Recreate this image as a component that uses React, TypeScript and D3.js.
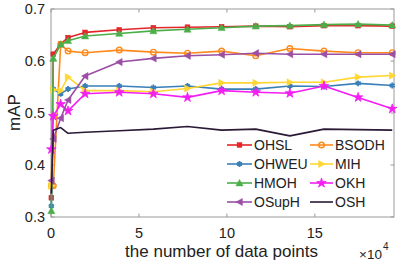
import React from "react";
import * as d3 from "d3";

const xs = [0.02, 0.13, 0.55, 0.97, 1.94, 3.88, 5.82, 7.76, 9.7, 11.64, 13.58, 15.52, 17.46, 19.4];
const OHSL = [0.337, 0.613, 0.633, 0.645, 0.655, 0.66, 0.664, 0.665, 0.666, 0.667, 0.666, 0.668, 0.668, 0.667];
const BSODH = [0.36, 0.36, 0.632, 0.619, 0.616, 0.621, 0.617, 0.615, 0.619, 0.61, 0.624, 0.619, 0.616, 0.616];
const OHWEU = [0.321, 0.546, 0.537, 0.546, 0.552, 0.552, 0.549, 0.552, 0.546, 0.546, 0.552, 0.551, 0.557, 0.553];
const MIH = [0.36, 0.545, 0.543, 0.569, 0.543, 0.543, 0.541, 0.547, 0.558, 0.558, 0.559, 0.559, 0.569, 0.572];
const HMOH = [0.312, 0.605, 0.632, 0.639, 0.648, 0.653, 0.658, 0.661, 0.664, 0.667, 0.668, 0.67, 0.671, 0.669];
const OKH = [0.43, 0.494, 0.517, 0.504, 0.537, 0.54, 0.537, 0.53, 0.543, 0.54, 0.538, 0.552, 0.53, 0.508];
const OSupH = [0.37, 0.45, 0.49, 0.525, 0.571, 0.598, 0.605, 0.61, 0.612, 0.615, 0.613, 0.613, 0.613, 0.613];
const OSH = [0.345, 0.467, 0.472, 0.461, 0.463, 0.466, 0.469, 0.474, 0.467, 0.469, 0.456, 0.469, 0.468, 0.467];

const seriesNames = ["OHSL", "BSODH", "OHWEU", "MIH", "HMOH", "OKH", "OSupH", "OSH"];
const seriesValues = [OHSL, BSODH, OHWEU, MIH, HMOH, OKH, OSupH, OSH];
const colors = ["#e3262a", "#ff8a1c", "#3a7fb8", "#ffd633", "#4cae4a", "#f21ef2", "#9a4fa4", "#2a1a36"];
const markers = ["square", "circle", "star6", "right", "up", "star5", "left", "none"];

const xTicks = [0, 5, 10, 15];
const yTicks = [0.3, 0.4, 0.5, 0.6, 0.7];

const FONT = "'Liberation Sans', Arial, sans-serif";

function Marker({ type, x, y, color }: { type: string; x: number; y: number; color: string }) {
  if (type === "none") return null;
  if (type === "square") {
    return <rect x={x - 2.4} y={y - 2.4} width={4.8} height={4.8} fill={color} stroke={color} strokeWidth={0.5} />;
  }
  if (type === "circle") {
    return <circle cx={x} cy={y} r={2.8} fill="none" stroke={color} strokeWidth={1.4} />;
  }
  if (type === "star6") {
    const p = d3.symbol().type(d3.symbolAsterisk).size(24)();
    return <path d={p || ""} transform={`translate(${x},${y})`} fill={color} stroke={color} strokeWidth={1.8} />;
  }
  if (type === "star5") {
    const p = d3.symbol().type(d3.symbolStar).size(28)();
    return <path d={p || ""} transform={`translate(${x},${y})`} fill={color} stroke={color} strokeWidth={0.8} />;
  }
  const s = 3.6;
  let pts = "";
  if (type === "up") pts = `${x},${y - s} ${x - s},${y + s * 0.8} ${x + s},${y + s * 0.8}`;
  if (type === "right") pts = `${x + s},${y} ${x - s * 0.8},${y - s} ${x - s * 0.8},${y + s}`;
  if (type === "left") pts = `${x - s},${y} ${x + s * 0.8},${y - s} ${x + s * 0.8},${y + s}`;
  return <polygon points={pts} fill={color} stroke={color} strokeWidth={0.5} />;
}

export default function App() {
  const W = 399, H = 266;
  const left = 51, right = 394, top = 9, bottom = 217;
  const x = d3.scaleLinear().domain([0, 19.5]).range([left, right]);
  const y = d3.scaleLinear().domain([0.3, 0.7]).range([bottom, top]);
  const line = d3.line<number>().x((_, i) => x(xs[i])).y((d) => y(d));
  const axisColor = "#9a9a9a";
  const tl = 3.5;

  const legendCols = [227, 310];
  const legendLens = [25, 23];
  const legendRows = [145, 164, 183, 202];

  return (
    <svg width={W} height={H} style={{ position: "absolute", left: 0, top: 0, background: "#fff" }}>
      <rect x={0} y={0} width={W} height={H} fill="#fff" />
      <rect x={left} y={top} width={right - left} height={bottom - top} fill="none" stroke={axisColor} strokeWidth={1} />
      {xTicks.map((t) => (
        <g key={"xt" + t}>
          <line x1={x(t)} x2={x(t)} y1={bottom} y2={bottom - tl} stroke={axisColor} />
          <line x1={x(t)} x2={x(t)} y1={top} y2={top + tl} stroke={axisColor} />
          <text x={x(t)} y={bottom + 21} fontSize={14.5} fontFamily={FONT} fill="#222" textAnchor="middle">{t}</text>
        </g>
      ))}
      {yTicks.map((t) => (
        <g key={"yt" + t}>
          <line x1={left} x2={left + tl} y1={y(t)} y2={y(t)} stroke={axisColor} />
          <line x1={right} x2={right - tl} y1={y(t)} y2={y(t)} stroke={axisColor} />
          <text x={left - 6} y={y(t) + 5.2} fontSize={14.5} fontFamily={FONT} fill="#222" textAnchor="end">{t.toFixed(1)}</text>
        </g>
      ))}
      <text transform={`translate(20,112.5) rotate(-90)`} fontSize={17} fontFamily={FONT} fill="#222" textAnchor="middle">mAP</text>
      <text x={221.5} y={257} fontSize={17} fontFamily={FONT} fill="#222" textAnchor="middle">the number of data points</text>
      <text x={359} y={259} fontSize={13.5} fontFamily={FONT} fill="#222">×10</text>
      <text x={383} y={250} fontSize={10} fontFamily={FONT} fill="#222">4</text>

      {seriesValues.map((vals, si) => (
        <g key={"s" + si}>
          <path d={line(vals) || ""} fill="none" stroke={colors[si]} strokeWidth={1.6} strokeLinejoin="round" />
          {vals.map((v, i) => (
            <Marker key={i} type={markers[si]} x={x(xs[i])} y={y(v)} color={colors[si]} />
          ))}
        </g>
      ))}

      {seriesNames.map((name, i) => {
        const cx = legendCols[i % 2];
        const cy = legendRows[Math.floor(i / 2)];
        const lw = legendLens[i % 2];
        return (
          <g key={"lg" + i}>
            <line x1={cx} x2={cx + lw} y1={cy} y2={cy} stroke={colors[i]} strokeWidth={1.6} />
            <Marker type={markers[i]} x={cx + lw / 2} y={cy} color={colors[i]} />
            <text x={cx + lw + 2} y={cy + 5} fontSize={14} fontFamily={FONT} fill="#222">{name}</text>
          </g>
        );
      })}
    </svg>
  );
}
